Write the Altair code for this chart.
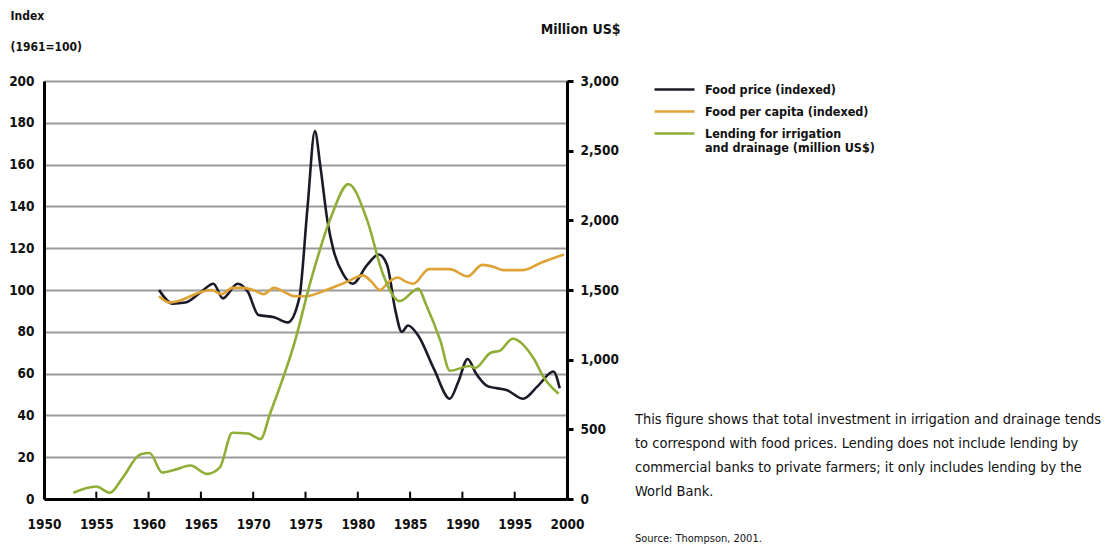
import altair as alt
import pandas as pd

FONT = "Liberation Sans Narrow, DejaVu Sans Condensed, sans-serif"

S_PRICE = "Food price (indexed)"
S_CAPITA = "Food per capita (indexed)"
S_LEND = "Lending for irrigation and drainage (million US$)"

price_years = [1961.0, 1962.3, 1963.5, 1965.0, 1966.2, 1967.1, 1968.5, 1969.5, 1970.5, 1972.0,
               1973.3, 1974.4, 1975.2, 1975.9, 1976.4, 1977.1, 1977.7, 1978.6, 1979.5, 1980.9,
               1982.0, 1982.8, 1983.6, 1984.2, 1984.8, 1985.8, 1987.3, 1988.8, 1989.6, 1990.5,
               1991.3, 1992.4, 1994.3, 1995.8, 1997.2, 1998.7, 1999.3]
price_vals = [100, 93.5, 94, 99, 103, 96, 103, 99, 88, 87,
              84.5, 96, 140, 176, 160, 133, 118.6, 107.6, 103, 112,
              117, 112, 90, 80, 83, 78, 62, 48, 56, 67,
              60, 54, 52, 48, 54, 61, 53]

capita_years = [1961, 1962, 1963, 1964, 1965, 1966, 1967, 1968, 1969, 1970, 1971, 1972, 1973, 1974,
                1975, 1977, 1979, 1980.5, 1981.3, 1982.1, 1983.0, 1983.8, 1984.6, 1985.3, 1986.8,
                1988.8, 1990.5, 1991.9, 1993.0, 1993.9, 1995.8, 1997.5, 1999.7]
capita_vals = [97, 94, 95, 97, 99, 100, 98, 101, 101, 100, 98, 101, 99, 97,
               97, 100, 104, 107, 104, 100, 104, 106, 104, 103, 110,
               110, 106.5, 112, 111, 109.5, 109.5, 113, 117]

lend_years = [1952.8, 1955.0, 1956.3, 1957.5, 1959.2, 1960.1, 1961.3, 1962.5, 1964.0, 1965.6,
              1966.8, 1968.0, 1969.5, 1970.7, 1971.6, 1974.0, 1975.5, 1977.4, 1979.1, 1980.9,
              1982.4, 1984.0, 1985.8, 1986.5, 1987.9, 1988.8, 1990.7, 1991.2, 1992.7, 1993.6,
              1994.8, 1996.8, 1997.8, 1999.2]
lend_vals = [45, 90, 45, 150, 320, 330, 190, 210, 240, 180,
             225, 475, 470, 430, 610, 1135, 1565, 2015, 2260, 2000,
             1615, 1420, 1510, 1400, 1135, 920, 955, 940, 1050, 1065,
             1150, 1010, 870, 755]

tick_years = [1955, 1960, 1965, 1970, 1975, 1980, 1985, 1990, 1995, 2000]

caption_lines = [
    "This figure shows that total investment in irrigation and drainage tends",
    "to correspond with food prices. Lending does not include lending by",
    "commercial banks to private farmers; it only includes lending by the",
    "World Bank.",
]
source_text = "Source: Thompson, 2001."

series_order = [S_PRICE, S_CAPITA, S_LEND]
series_colors = ["#1c1a28", "#dea235", "#8fae38"]

idx_df = pd.concat([
    pd.DataFrame({"year": price_years, "value": price_vals, "series": S_PRICE}),
    pd.DataFrame({"year": capita_years, "value": capita_vals, "series": S_CAPITA}),
])
lend_df = pd.DataFrame({"year": lend_years, "value": lend_vals, "series": S_LEND})
tick_df = pd.DataFrame({"year": tick_years, "y0": [0] * len(tick_years), "y1": [3.5] * len(tick_years)})
cap_df = pd.DataFrame({"line": caption_lines, "i": list(range(len(caption_lines)))})

W, H = 523, 418

xscale = alt.Scale(domain=[1950, 2000], nice=False, zero=False)
color = alt.Color(
    "series:N",
    scale=alt.Scale(domain=series_order, range=series_colors),
    legend=alt.Legend(
        title=None, orient="none", legendX=609, legendY=-13,
        symbolType="stroke", symbolSize=1600, symbolStrokeWidth=2.5,
        labelFont=FONT, labelFontSize=12.5, labelFontWeight="bold", labelColor="#111",
        labelLimit=400, rowPadding=-6, labelOffset=9, gridAlign="none",
        labelExpr="datum.label == '" + S_LEND + "' ? ['Lending for irrigation', 'and drainage (million US$)'] : datum.label",
    ),
)

xaxis = alt.Axis(
    values=[1950] + tick_years, format="d", title=None, grid=False, labelOverlap=False,
    labelFlush=False, domainColor="black", domainWidth=3, ticks=False,
    labelFont=FONT, labelFontSize=13.5, labelFontWeight="bold", labelColor="#111", labelPadding=18,
)

left = alt.Chart(idx_df).mark_line(interpolate="monotone", strokeWidth=2.6).encode(
    x=alt.X("year:Q", scale=xscale, axis=xaxis),
    y=alt.Y("value:Q", scale=alt.Scale(domain=[0, 200], nice=False),
            axis=alt.Axis(values=list(range(0, 201, 20)), title=["Index", "(1961=100)"],
                          titleAngle=0, titleAlign="left", titleBaseline="top",
                          titleX=-34, titleY=-71, titleLineHeight=31, titleFont=FONT,
                          titleFontSize=12, titleFontWeight="bold", titleColor="#111",
                          grid=True, gridColor="#9a9a9a", gridWidth=2.2, labelOverlap=False,
                          domainColor="black", domainWidth=3, ticks=False,
                          labelFont=FONT, labelFontSize=13.5, labelFontWeight="bold",
                          labelColor="#111", labelPadding=10)),
    color=color,
    order=alt.Order("year:Q"),
)

right = alt.Chart(lend_df).mark_line(interpolate="monotone", strokeWidth=2.6).encode(
    x=alt.X("year:Q", scale=xscale),
    y=alt.Y("value:Q", scale=alt.Scale(domain=[0, 3000], nice=False),
            axis=alt.Axis(orient="right", values=list(range(0, 3001, 500)), format=",.0f",
                          title="Million US$", titleAngle=0, titleAlign="right",
                          titleBaseline="middle", titleX=53, titleY=-52,
                          titleFont=FONT, titleFontSize=14, titleFontWeight="bold",
                          titleColor="#111", grid=False, labelOverlap=False,
                          domainColor="black", domainWidth=3, ticks=True, tickColor="black",
                          tickWidth=3, tickSize=6,
                          labelFont=FONT, labelFontSize=13.5, labelFontWeight="bold",
                          labelColor="#111", labelPadding=7)),
    color=color,
    order=alt.Order("year:Q"),
)

ticks = alt.Chart(tick_df).mark_rule(color="black", strokeWidth=2).encode(
    x=alt.X("year:Q", scale=xscale),
    y=alt.Y("y0:Q", scale=alt.Scale(domain=[0, 200], nice=False), axis=None),
    y2="y1:Q",
)

caption = alt.Chart(cap_df).mark_text(
    align="left", baseline="middle", font=FONT, fontSize=14.5, color="#111"
).encode(
    x=alt.value(591),
    y=alt.Y("i:Q", scale=alt.Scale(domain=[0, 3], range=[339, 411]), axis=None),
    text="line:N",
)

source = alt.Chart(pd.DataFrame({"t": [source_text]})).mark_text(
    align="left", baseline="middle", font=FONT, fontSize=11, color="#111"
).encode(x=alt.value(591), y=alt.value(458), text="t:N")

chart = alt.layer(left, ticks, right, caption, source).resolve_scale(
    y="independent"
).properties(
    width=W, height=H,
    padding={"left": 0, "top": 1, "right": 0, "bottom": 0},
).configure_view(stroke=None).configure(background="white")

chart.save("out.html", embed_options={"renderer": "svg", "actions": False})
